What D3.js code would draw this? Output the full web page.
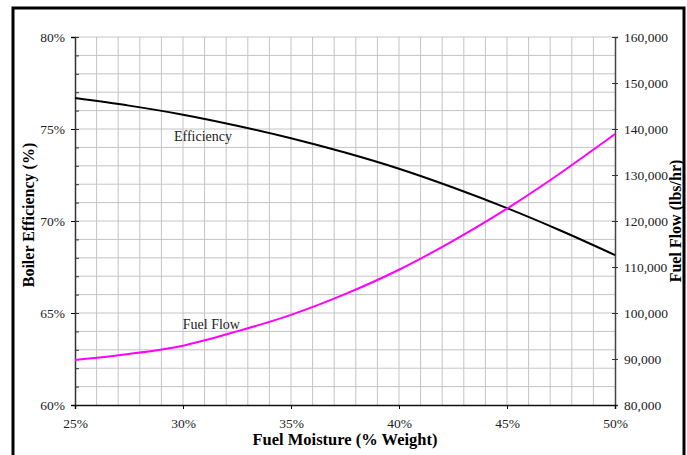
<!DOCTYPE html>
<html>
<head>
<meta charset="utf-8">
<script src="https://cdn.jsdelivr.net/npm/d3@7"></script>
<style>
  body { margin: 0; background: #fff; }
  svg { display: block; font-family: "Liberation Serif", "DejaVu Serif", serif; }
  .tick text { fill: #222; }
</style>
</head>
<body>
<div id="chart"></div>
<script>
// Fuel moisture (% weight) along the bottom
var moisture = [25, 27.5, 30, 32.5, 35, 37.5, 40, 42.5, 45, 47.5, 50];
// boiler efficiency (%), left axis
var efficiency = [76.68, 76.27, 75.78, 75.18, 74.5, 73.72, 72.84, 71.82, 70.7, 69.47, 68.15];
// fuel flow (lbs/hr), right axis
var fuelFlow = [89800, 91100, 92900, 96000, 99600, 104100, 109400, 115700, 122700, 130500, 138900];

var xTicks = [25, 30, 35, 40, 45, 50];
var effTicks = [60, 65, 70, 75, 80];
var flowTicks = [80000, 90000, 100000, 110000, 120000, 130000, 140000, 150000, 160000];

var width = 687, height = 455;
var margin = {top: 37, right: 72, bottom: 50, left: 75};
var plotW = width - margin.left - margin.right;
var plotH = height - margin.top - margin.bottom;
var serif = '"Liberation Serif", "DejaVu Serif", serif';

var svg = d3.select("#chart").append("svg")
  .attr("width", width)
  .attr("height", height);

// outer frame (runs off the bottom of the picture)
svg.append("rect")
  .attr("x", 13).attr("y", 8)
  .attr("width", 671).attr("height", 460)
  .attr("fill", "none")
  .attr("stroke", "#000")
  .attr("stroke-width", 3);

var x = d3.scaleLinear().domain([25, 50]).range([0, plotW]);
var yL = d3.scaleLinear().domain([60, 80]).range([plotH, 0]);
var yR = d3.scaleLinear().domain([80000, 160000]).range([plotH, 0]);

var g = svg.append("g").attr("transform", "translate(" + margin.left + "," + margin.top + ")");

// grid: every 1% both ways
g.append("g").selectAll("line")
  .data(d3.range(26, 50))
  .join("line")
  .attr("x1", d => x(d)).attr("x2", d => x(d))
  .attr("y1", 0).attr("y2", plotH)
  .attr("stroke", "#c4c4c4").attr("stroke-width", 1);

g.append("g").selectAll("line")
  .data(d3.range(61, 81))
  .join("line")
  .attr("x1", 0).attr("x2", plotW)
  .attr("y1", d => yL(d)).attr("y2", d => yL(d))
  .attr("stroke", "#c4c4c4").attr("stroke-width", 1);

// left axis: minor ticks inside, majors outside
g.append("g")
  .call(d3.axisRight(yL).tickValues(d3.range(60, 81)).tickSize(4).tickFormat(""))
  .call(a => a.select(".domain").remove())
  .selectAll("line").attr("stroke", "#333");

var leftAxis = g.append("g")
  .call(d3.axisLeft(yL).tickValues(effTicks).tickSize(4).tickPadding(6)
    .tickFormat(d => d + "%"));
leftAxis.select(".domain").attr("stroke", "#333").attr("stroke-width", 1.5);

// right axis: ticks across the line
var rightAxis = g.append("g")
  .attr("transform", "translate(" + plotW + ",0)")
  .call(d3.axisRight(yR).tickValues(flowTicks).tickSize(3).tickPadding(6)
    .tickFormat(d3.format(",")));
rightAxis.select(".domain").attr("stroke", "#444").attr("stroke-width", 1.5);
rightAxis.selectAll(".tick line").attr("x1", -3).attr("stroke", "#333");

// bottom axis
var bottomAxis = g.append("g")
  .attr("transform", "translate(0," + plotH + ")")
  .call(d3.axisBottom(x).tickValues(xTicks).tickSize(4).tickPadding(9)
    .tickFormat(d => d + "%"));
bottomAxis.select(".domain").attr("stroke", "#111").attr("stroke-width", 1.5);

[leftAxis, rightAxis, bottomAxis].forEach(function (a) {
  a.attr("font-family", serif).attr("font-size", 13.5);
});

// curves
var effLine = d3.line()
  .x((d, i) => x(moisture[i]))
  .y(d => yL(d))
  .curve(d3.curveMonotoneX);

var flowLine = d3.line()
  .x((d, i) => x(moisture[i]))
  .y(d => yR(d))
  .curve(d3.curveMonotoneX);

g.append("path")
  .datum(efficiency)
  .attr("d", effLine)
  .attr("fill", "none")
  .attr("stroke", "#000")
  .attr("stroke-width", 2);

g.append("path")
  .datum(fuelFlow)
  .attr("d", flowLine)
  .attr("fill", "none")
  .attr("stroke", "#ff00ff")
  .attr("stroke-width", 2);

// series labels
g.append("text")
  .attr("x", x(29.58)).attr("y", yL(74.35))
  .style("font-size", "14px").attr("fill", "#222")
  .text("Efficiency");

g.append("text")
  .attr("x", x(29.99)).attr("y", yR(96500))
  .style("font-size", "14px").attr("fill", "#222")
  .text("Fuel Flow");

// axis titles
svg.append("text")
  .attr("transform", "translate(34,215) rotate(-90)")
  .attr("text-anchor", "middle")
  .style("font-size", "16px").style("font-weight", "bold")
  .text("Boiler Efficiency (%)");

svg.append("text")
  .attr("transform", "translate(681," + (margin.top + plotH / 2) + ") rotate(-90)")
  .attr("text-anchor", "middle")
  .style("font-size", "16px").style("font-weight", "bold")
  .text("Fuel Flow (lbs/hr)");

svg.append("text")
  .attr("x", margin.left + plotW / 2).attr("y", 445)
  .attr("text-anchor", "middle")
  .style("font-size", "16.5px").style("font-weight", "bold")
  .text("Fuel Moisture (% Weight)");
</script>
</body>
</html>
